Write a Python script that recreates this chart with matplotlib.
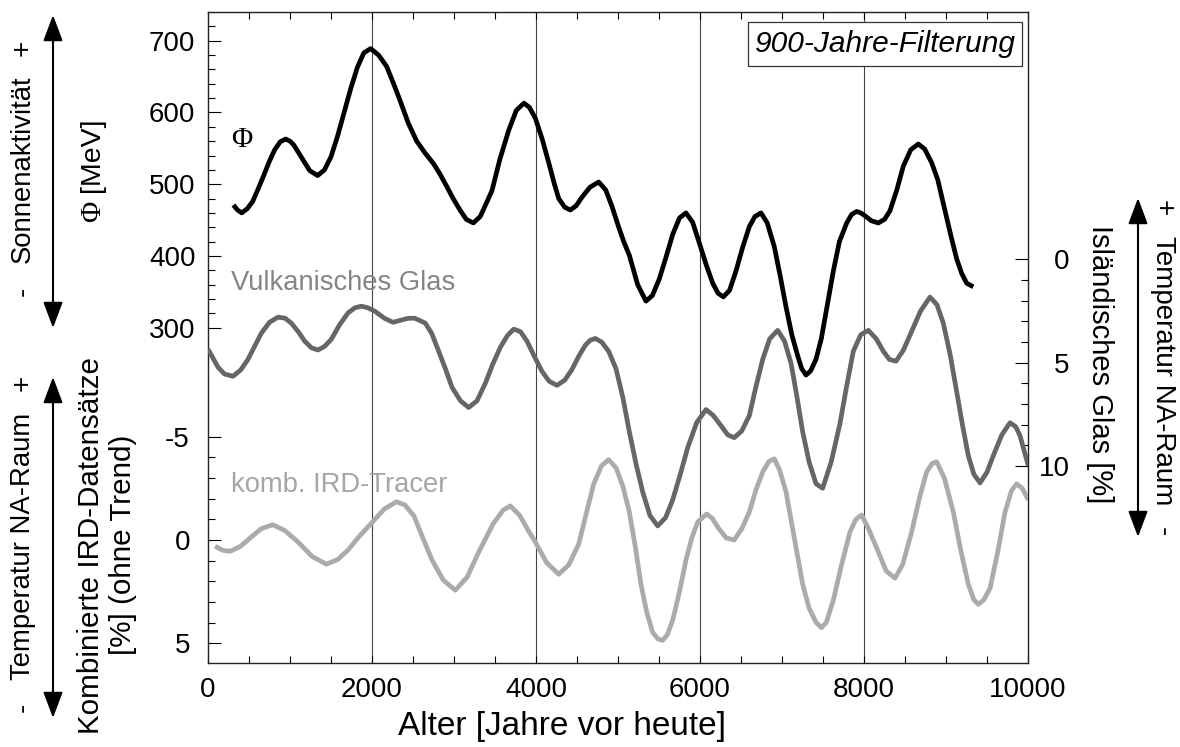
import matplotlib
matplotlib.use("Agg")
import matplotlib.pyplot as plt
from matplotlib.patches import FancyArrowPatch, Rectangle

plt.rcParams['font.family'] = ['Liberation Sans', 'DejaVu Sans']

# --- Sonnenaktivität Phi [MeV] (900-Jahre-Filterung) ---
phi_years = [309, 360, 411, 480, 545, 610, 679, 745, 813, 880, 947, 1000, 1044, 1142, 1240,
             1337, 1420, 1499, 1580, 1660, 1740, 1822, 1900, 1984, 2080, 2179, 2260, 2341,
             2443, 2545, 2650, 2748, 2830, 2911, 2990, 3073, 3150, 3236, 3320, 3400, 3463,
             3560, 3667, 3760, 3854, 3920, 3992, 4075, 4155, 4220, 4277, 4350, 4418, 4490,
             4561, 4660, 4765, 4850, 4927, 5000, 5070, 5138, 5240, 5341, 5420, 5504, 5590,
             5667, 5750, 5829, 5910, 5992, 6075, 6155, 6220, 6285, 6360, 6439, 6520, 6602,
             6670, 6744, 6820, 6906, 6980, 7049, 7120, 7191, 7240, 7293, 7350, 7415, 7480,
             7550, 7626, 7700, 7789, 7850, 7911, 7960, 8012, 8090, 8175, 8250, 8317, 8400,
             8479, 8570, 8662, 8740, 8825, 8900, 8988, 9060, 9130, 9190, 9252, 9333]
phi_values = [471, 464, 460, 466, 476, 493, 512, 531, 548, 559, 563, 560, 555, 537, 519,
              512, 520, 538, 567, 600, 633, 663, 683, 689, 680, 664, 641, 617,
              585, 560, 543, 529, 514, 497, 480, 464, 451, 446, 455, 475, 491,
              535, 575, 603, 613, 607, 592, 563, 530, 502, 480, 468, 464, 470,
              482, 496, 503, 492, 469, 443, 420, 401, 360, 337, 345, 368, 400,
              430, 453, 460, 447, 418, 388, 362, 348, 343, 352, 379, 412, 441,
              455, 460, 446, 413, 371, 329, 290, 261, 243, 234, 240, 256, 285,
              330, 379, 420, 446, 458, 462, 460, 456, 449, 446, 451, 463, 492,
              525, 548, 556, 549, 530, 506, 463, 428, 396, 376, 362, 357]

# --- Isländisches (vulkanisches) Glas [%] ---
glass_years = [0, 122, 200, 305, 400, 488, 570, 650, 750, 854, 940, 1016, 1100, 1179, 1260,
               1341, 1420, 1504, 1600, 1707, 1790, 1870, 1950, 2033, 2150, 2256, 2350, 2439,
               2520, 2650, 2730, 2813, 2900, 2976, 3080, 3179, 3280, 3382, 3470, 3565, 3650,
               3728, 3810, 3890, 3980, 4073, 4160, 4256, 4350, 4439, 4520, 4601, 4660, 4723,
               4800, 4886, 4976, 5060, 5138, 5220, 5301, 5390, 5484, 5580, 5667, 5760, 5850,
               5960, 6073, 6160, 6256, 6340, 6418, 6510, 6602, 6680, 6765, 6850, 6947, 7030,
               7110, 7180, 7252, 7330, 7415, 7496, 7600, 7707, 7790, 7870, 7960, 8053, 8150,
               8236, 8310, 8390, 8480, 8561, 8690, 8805, 8890, 8967, 9050, 9130, 9200, 9272,
               9340, 9415, 9500, 9577, 9680, 9780, 9850, 9902, 10004]
glass_values = [4.35, 5.22, 5.55, 5.66, 5.35, 4.84, 4.20, 3.58, 3.05, 2.80, 2.85, 3.09, 3.50, 3.96, 4.28,
                4.39, 4.22, 3.87, 3.20, 2.60, 2.35, 2.27, 2.35, 2.51, 2.85, 3.05, 2.95, 2.86,
                2.85, 3.09, 3.60, 4.45, 5.35, 6.20, 6.85, 7.17, 6.85, 6.00, 5.10, 4.26, 3.70,
                3.38, 3.50, 3.96, 4.70, 5.42, 5.90, 6.10, 5.85, 5.33, 4.70, 4.16, 3.92, 3.83,
                4.00, 4.45, 5.30, 6.70, 8.34, 9.90, 11.25, 12.40, 12.90, 12.50, 11.64, 10.40, 9.11,
                7.90, 7.27, 7.55, 8.05, 8.50, 8.63, 8.30, 7.56, 6.20, 4.84, 3.85, 3.44, 3.95,
                5.03, 6.60, 8.34, 9.80, 10.86, 11.08, 9.80, 7.95, 6.10, 4.45, 3.65, 3.44, 3.85,
                4.45, 4.85, 4.93, 4.40, 3.67, 2.50, 1.83, 2.20, 3.09, 4.60, 6.40, 8.00, 9.50,
                10.40, 10.82, 10.30, 9.50, 8.50, 7.91, 8.10, 8.53, 9.99]

# --- Kombinierte IRD-Datensätze [%] (ohne Trend) ---
ird_years = [85, 180, 270, 400, 529, 650, 790, 940, 1098, 1270, 1443, 1580, 1707, 1850, 1992,
             2150, 2297, 2400, 2512, 2620, 2732, 2870, 3016, 3160, 3301, 3480, 3600, 3687,
             3800, 3900, 3992, 4130, 4277, 4400, 4521, 4620, 4704, 4800, 4886, 4976, 5060,
             5138, 5210, 5280, 5350, 5423, 5490, 5545, 5600, 5667, 5750, 5829, 5900, 5972,
             6081, 6150, 6224, 6320, 6418, 6510, 6602, 6680, 6765, 6840, 6906, 6970, 7049,
             7150, 7252, 7330, 7415, 7480, 7540, 7626, 7720, 7829, 7900, 7972, 8060, 8155,
             8270, 8378, 8470, 8581, 8680, 8764, 8830, 8886, 8980, 9089, 9180, 9272, 9340,
             9394, 9460, 9537, 9630, 9720, 9800, 9862, 9930, 10004]
ird_values = [0.30, 0.50, 0.55, 0.30, -0.15, -0.55, -0.74, -0.45, 0.10, 0.80, 1.17, 0.95, 0.49, -0.20, -0.81,
              -1.50, -1.85, -1.70, -1.16, -0.10, 0.97, 1.95, 2.43, 1.80, 0.59, -0.80, -1.45, -1.65,
              -1.20, -0.50, 0.10, 1.10, 1.66, 1.20, 0.20, -1.40, -2.72, -3.60, -3.89, -3.50, -2.60,
              -1.36, 0.30, 2.14, 3.50, 4.48, 4.80, 4.86, 4.60, 3.89, 2.50, 0.97, -0.10, -0.87,
              -1.26, -1.05, -0.58, -0.10, 0.00, -0.55, -1.36, -2.40, -3.30, -3.80, -3.93, -3.40, -2.33,
              -0.10, 2.14, 3.30, 3.99, 4.25, 4.00, 2.92, 1.30, -0.39, -1.00, -1.21, -0.50, 0.39,
              1.50, 1.85, 1.20, -0.39, -2.10, -3.30, -3.70, -3.79, -3.00, -1.36, 0.50, 2.14, 2.90,
              3.12, 2.90, 2.34, 0.60, -1.36, -2.40, -2.72, -2.50, -1.94]

# tick positions / labels
x_major = [0, 2000, 4000, 6000, 8000, 10000]
x_minor = list(range(0, 10001, 500))
grid_years = [2000, 4000, 6000, 8000]
phi_major = [300, 400, 500, 600, 700]
phi_minor = list(range(300, 741, 20))
ird_major = [-5, 0, 5]
ird_minor = list(range(-5, 6))
glass_major = [0, 5, 10]
glass_minor = list(range(0, 11))

W, H = 1180, 747
fig = plt.figure(figsize=(W / 100, H / 100), dpi=100)


def fx(px):
    return px / W


def fy(py):
    return 1 - py / H


L, R, T, B = 208, 1028, 12, 663
rect = [fx(L), fy(B), fx(R) - fx(L), fy(T) - fy(B)]

TICK_FS = 20
BLACK = '#000000'
DARK = '#666666'
LIGHT = '#ababab'
LINE = dict(lw=3.4, solid_joinstyle='round', solid_capstyle='butt')

# main axes: Phi on the left (upper half)
ax = fig.add_axes(rect)
ax.set_xlim(0, 10000)
ax.set_ylim(-167.3, 740)
for s in ax.spines.values():
    s.set_linewidth(1.0)
    s.set_color('#222222')

ax.set_xticks(x_major)
ax.set_xticks(x_minor, minor=True)
ax.set_xticklabels([str(v) for v in x_major], fontsize=TICK_FS)
ax.tick_params(axis='x', which='both', direction='in', top=True, bottom=True,
               length=5, width=0.8, pad=10)

ax.set_yticks(phi_major)
ax.set_yticks(phi_minor, minor=True)
ax.set_yticklabels([str(v) for v in phi_major], fontsize=TICK_FS)
ax.tick_params(axis='y', which='major', direction='in', length=9.5, width=0.8, pad=9)
ax.tick_params(axis='y', which='minor', direction='in', length=5, width=0.8)

for g in grid_years:
    ax.axvline(g, color='#444444', lw=0.8, zorder=1)

ax.plot(phi_years, phi_values, color=BLACK, zorder=5, **LINE)

# IRD axis (left, lower half, inverted)
ax_ird = fig.add_axes(rect, sharex=ax)
ax_ird.set_ylim(5.96, -25.58)
ax_ird.patch.set_visible(False)
ax_ird.set_frame_on(False)
ax_ird.xaxis.set_visible(False)
ax_ird.set_yticks(ird_major)
ax_ird.set_yticks(ird_minor, minor=True)
ax_ird.set_yticklabels([str(v) for v in ird_major], fontsize=TICK_FS)
ax_ird.tick_params(axis='y', which='major', direction='in', length=9.5, width=0.8, pad=13)
ax_ird.tick_params(axis='y', which='minor', direction='in', length=5, width=0.8)
ax_ird.plot(ird_years, ird_values, color=LIGHT, zorder=3, **LINE)

# Icelandic glass axis (right, inverted)
ax_g = fig.add_axes(rect, sharex=ax)
ax_g.set_ylim(19.53, -11.96)
ax_g.patch.set_visible(False)
ax_g.set_frame_on(False)
ax_g.xaxis.set_visible(False)
ax_g.yaxis.tick_right()
ax_g.set_yticks(glass_major)
ax_g.set_yticks(glass_minor, minor=True)
ax_g.set_yticklabels([str(v) for v in glass_major], fontsize=TICK_FS)
for lab in ax_g.get_yticklabels():
    lab.set_horizontalalignment('right')
ax_g.tick_params(axis='y', which='major', direction='in', length=9.5, width=0.8, pad=30)
ax_g.tick_params(axis='y', which='minor', direction='in', length=5, width=0.8)
ax_g.plot(glass_years, glass_values, color=DARK, zorder=4, **LINE)

# in-plot labels
ax.text(0.041, 0.803, 'Φ', transform=ax.transAxes, fontsize=21,
        family=['Liberation Serif', 'DejaVu Serif'], ha='center', va='center')
ax.text(0.028, 0.584, 'Vulkanisches Glas', transform=ax.transAxes, fontsize=19.7,
        color='#858585', ha='left', va='center')
ax.text(0.028, 0.273, 'komb. IRD-Tracer', transform=ax.transAxes, fontsize=19.7,
        color='#a5a5a5', ha='left', va='center')

# filter caption box
fig.add_artist(Rectangle((fx(748), fy(66)), fx(1022) - fx(748), fy(22) - fy(66),
                         transform=fig.transFigure, fc='white', ec='#333333', lw=0.9,
                         zorder=10))
fig.text(fx(885), fy(44), '900-Jahre-Filterung', fontsize=21.5, style='italic',
         ha='center', va='center', zorder=11)

# x axis label
ax.set_xlabel('Alter [Jahre vor heute]', fontsize=24, va='center')
ax.xaxis.set_label_coords(0.432, -0.097)

# outer axis titles
TXT = dict(transform=fig.transFigure, ha='center', va='center')
fig.text(fx(23), fy(169), 'Sonnenaktivität', rotation=90, fontsize=19.8, **TXT)
fig.text(fx(23), fy(291), '-', rotation=90, fontsize=20, **TXT)
fig.text(fx(23), fy(48), '+', rotation=90, fontsize=20, **TXT)
fig.text(fx(93), fy(211), 'Φ', rotation=90, fontsize=21,
         family=['Liberation Serif', 'DejaVu Serif'], **TXT)
fig.text(fx(92), fy(155), '[MeV]', rotation=90, fontsize=20.5, **TXT)

fig.text(fx(23), fy(546), 'Temperatur NA-Raum', rotation=90, fontsize=19.8, **TXT)
fig.text(fx(23), fy(707), '-', rotation=90, fontsize=20, **TXT)
fig.text(fx(23), fy(383), '+', rotation=90, fontsize=20, **TXT)
fig.text(fx(91), fy(545), 'Kombinierte IRD-Datensätze', rotation=90, fontsize=21.3, **TXT)
fig.text(fx(123), fy(545), '[%] (ohne Trend)', rotation=90, fontsize=21.3, **TXT)

fig.text(fx(1100), fy(364), 'Isländisches Glas [%]', rotation=-90, fontsize=21, **TXT)
fig.text(fx(1163), fy(371), 'Temperatur NA-Raum', rotation=-90, fontsize=20, **TXT)
fig.text(fx(1163), fy(208), '+', rotation=-90, fontsize=20, **TXT)
fig.text(fx(1163), fy(532), '-', rotation=-90, fontsize=20, **TXT)


def double_arrow(x, y0, y1):
    arr = FancyArrowPatch((fx(x), fy(y0)), (fx(x), fy(y1)), transform=fig.transFigure,
                          arrowstyle='<|-|>,head_length=16,head_width=6',
                          color='black', lw=1.5, shrinkA=0, shrinkB=0,
                          mutation_scale=1)
    fig.add_artist(arr)


double_arrow(53, 15, 328)
double_arrow(53, 377, 718)
double_arrow(1138, 198, 537)

fig.savefig('out.png', dpi=100)
